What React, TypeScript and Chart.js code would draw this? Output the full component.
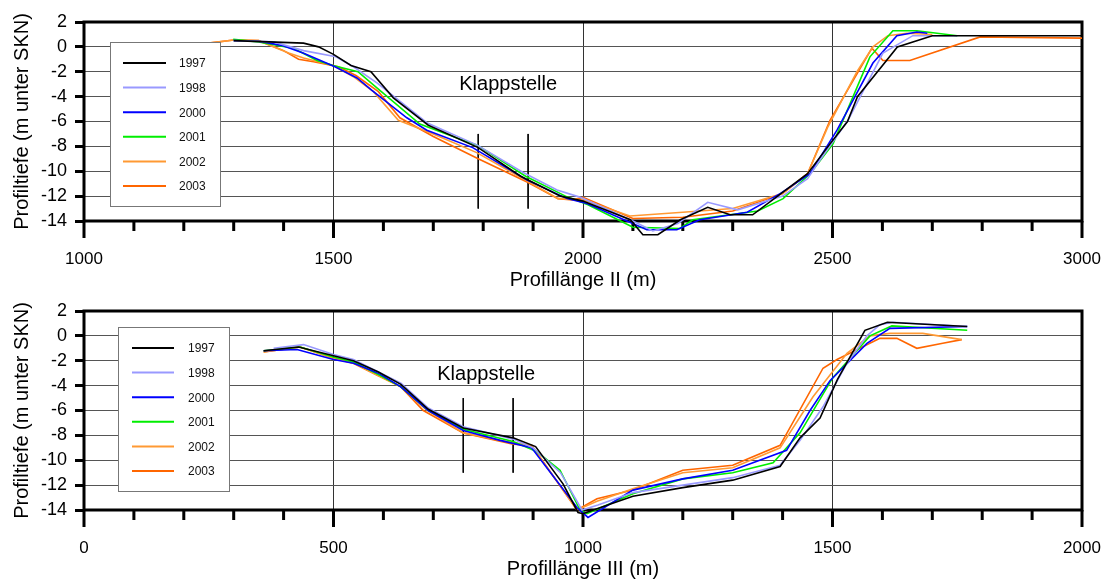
import React, { useEffect, useRef } from 'react';
import { Chart, registerables } from 'chart.js';
Chart.register(...registerables);

const FONT = '"Liberation Sans", Arial, sans-serif';

const seriesLabels = ['1997', '1998', '2000', '2001', '2002', '2003'];
const seriesColors = ['#000000', '#9999ff', '#0000ff', '#00ee00', '#ff9933', '#ff6600'];

// ---------- Profil II (top) ----------
const topX1997 = [1300, 1440, 1470, 1500, 1535, 1575, 1620, 1690, 1790, 1875, 1955, 2000, 2095, 2120, 2150, 2195, 2250, 2295, 2340, 2400, 2450, 2495, 2530, 2550, 2630, 2700, 3000];
const topY1997 = [0.5, 0.3, 0.0, -0.6, -1.5, -2.0, -4.1, -6.3, -8.1, -10.4, -12.0, -12.4, -13.9, -15.1, -15.1, -13.9, -12.9, -13.5, -13.5, -11.7, -10.2, -7.8, -6.0, -4.0, 0.0, 0.9, 0.9];
const topX1998 = [1300, 1380, 1440, 1505, 1540, 1587, 1687, 1788, 1880, 1948, 1995, 2100, 2140, 2190, 2250, 2310, 2400, 2450, 2475, 2531, 2601, 2661, 2750];
const topY1998 = [0.5, 0.4, -0.3, -0.8, -1.6, -2.9, -6.1, -7.9, -10.1, -11.5, -12.1, -14.0, -14.8, -14.2, -12.5, -13.1, -12.0, -10.6, -9.1, -5.9, -0.5, 0.9, 0.9];
const topX2000 = [1300, 1350, 1399, 1439, 1503, 1547, 1577, 1647, 1687, 1779, 1888, 1968, 2008, 2128, 2188, 2234, 2329, 2395, 2455, 2509, 2581, 2629, 2669, 2690];
const topY2000 = [0.5, 0.45, 0.1, -0.5, -1.6, -2.5, -3.5, -5.7, -6.7, -8.1, -10.7, -12.2, -12.6, -14.7, -14.7, -13.9, -13.3, -11.8, -10.2, -6.7, -1.3, 0.9, 1.2, 1.1];
const topX2001 = [1299, 1350, 1419, 1467, 1499, 1549, 1587, 1673, 1753, 1788, 1885, 1965, 2010, 2100, 2194, 2220, 2350, 2401, 2455, 2501, 2575, 2621, 2669, 2750];
const topY2001 = [0.6, 0.4, -0.1, -1.1, -1.5, -2.0, -3.3, -6.2, -7.4, -7.9, -10.4, -12.0, -12.7, -14.5, -14.6, -13.9, -13.2, -12.2, -10.2, -7.8, -0.8, 1.3, 1.3, 0.9];
const topX2002 = [1250, 1300, 1350, 1410, 1440, 1500, 1540, 1580, 1630, 1700, 1787, 1880, 1950, 2000, 2094, 2200, 2300, 2400, 2450, 2490, 2549, 2581, 2611, 2649, 2700];
const topY2002 = [0.3, 0.55, 0.5, -0.5, -0.9, -1.5, -2.4, -3.6, -5.9, -7.0, -8.5, -10.6, -12.2, -12.3, -13.6, -13.3, -13.0, -11.8, -10.2, -6.5, -2.0, 0.0, 0.9, 1.1, 1.0];
const topX2003 = [1250, 1300, 1350, 1400, 1430, 1460, 1510, 1545, 1590, 1633, 1700, 1790, 1890, 1950, 1980, 2000, 2100, 2200, 2300, 2400, 2450, 2495, 2579, 2601, 2655, 2796, 3000];
const topY2003 = [0.3, 0.55, 0.5, -0.3, -1.0, -1.2, -1.6, -2.3, -3.6, -5.7, -7.2, -9.0, -10.9, -12.2, -12.3, -12.1, -13.8, -13.7, -13.2, -11.8, -10.2, -5.9, -0.1, -1.1, -1.1, 0.8, 0.7];

// ---------- Profil III (bottom) ----------
const botX1997 = [360, 430, 500, 540, 590, 635, 690, 760, 860, 905, 960, 990, 1000, 1035, 1100, 1200, 1300, 1395, 1435, 1475, 1510, 1565, 1610, 1770];
const botY1997 = [-1.2, -0.9, -1.6, -2.0, -2.9, -3.9, -5.9, -7.4, -8.2, -8.9, -11.9, -14.2, -14.3, -13.8, -12.9, -12.2, -11.6, -10.5, -8.2, -6.6, -3.5, 0.45, 1.1, 0.75];
const botX1998 = [380, 440, 500, 540, 590, 635, 690, 760, 860, 900, 955, 998, 1030, 1100, 1200, 1300, 1395, 1435, 1481, 1529, 1569, 1595, 1621, 1770];
const botY1998 = [-1.0, -0.7, -1.5, -1.9, -2.9, -3.8, -5.8, -7.3, -8.3, -9.0, -11.0, -14.0, -13.6, -12.6, -12.0, -11.4, -10.4, -8.4, -5.7, -2.2, 0.0, 0.9, 1.1, 0.75];
const botX2000 = [360, 427, 500, 540, 590, 635, 690, 760, 834, 897, 988, 1010, 1100, 1200, 1300, 1408, 1455, 1495, 1569, 1615, 1770];
const botY2000 = [-1.2, -1.1, -1.9, -2.2, -3.0, -4.1, -6.0, -7.6, -8.4, -9.0, -13.8, -14.6, -12.4, -11.5, -10.8, -9.2, -6.0, -3.6, -0.6, 0.6, 0.75];
const botX2001 = [360, 433, 500, 540, 590, 635, 690, 760, 860, 907, 954, 994, 1008, 1100, 1200, 1300, 1381, 1435, 1500, 1575, 1619, 1770];
const botY2001 = [-1.2, -0.9, -1.7, -2.1, -3.1, -4.1, -6.0, -7.5, -8.5, -9.3, -10.8, -14.0, -14.3, -12.7, -11.5, -11.0, -10.2, -7.8, -3.4, 0.0, 0.8, 0.45];
const botX2002 = [360, 433, 500, 540, 590, 635, 685, 760, 860, 897, 988, 1028, 1100, 1200, 1300, 1395, 1461, 1529, 1575, 1615, 1681, 1759];
const botY2002 = [-1.3, -0.9, -1.8, -2.2, -3.2, -4.1, -5.9, -7.8, -8.6, -8.8, -14.0, -13.3, -12.3, -11.0, -10.6, -9.0, -4.9, -1.4, 0.0, 0.2, 0.2, -0.3];
const botX2003 = [360, 433, 500, 540, 590, 635, 680, 760, 860, 897, 988, 1028, 1100, 1200, 1300, 1395, 1481, 1509, 1595, 1629, 1669, 1721, 1759];
const botY2003 = [-1.3, -0.9, -1.8, -2.2, -3.2, -4.1, -6.0, -7.8, -8.7, -8.8, -14.0, -13.1, -12.4, -10.8, -10.4, -8.8, -2.6, -1.9, -0.2, -0.2, -1.0, -0.6, -0.3];

// Klappstelle markers (x positions of the dump-site boundaries and their vertical extent)
const topMarkerX = [1790, 1890];
const topMarkerY = [-7, -13];
const botMarkerX = [760, 860];
const botMarkerY = [-5, -11];

const yTickMin = -14;
const yTickMax = 2;
const yTickStep = 2;

const topXRange = [1000, 3000];
const botXRange = [0, 2000];

const topSeriesX = [topX1997, topX1998, topX2000, topX2001, topX2002, topX2003];
const topSeriesY = [topY1997, topY1998, topY2000, topY2001, topY2002, topY2003];
const botSeriesX = [botX1997, botX1998, botX2000, botX2001, botX2002, botX2003];
const botSeriesY = [botY1997, botY1998, botY2000, botY2001, botY2002, botY2003];

function zip(xs: number[], ys: number[]) {
  return xs.map((x, i) => ({ x, y: ys[i] }));
}

const framePlugin = {
  id: 'frameTicks',
  beforeDatasetsDraw(chart: any) {
    const { ctx, chartArea } = chart;
    const { left, right, top, bottom } = chartArea;
    const x = chart.scales.x;
    ctx.save();
    ctx.strokeStyle = '#000';
    ctx.lineWidth = 3;
    ctx.lineCap = 'butt';
    ctx.beginPath();
    ctx.rect(left, top, right - left, bottom - top);
    ctx.stroke();
    ctx.beginPath();
    for (let v = x.min; v <= x.max + 0.001; v += 100) {
      const px = x.getPixelForValue(v);
      const len = Math.round(v) % 500 === 0 ? 17 : 10;
      ctx.moveTo(px, bottom);
      ctx.lineTo(px, bottom + len);
    }
    ctx.stroke();
    ctx.restore();
  },
};

const overlayPlugin = {
  id: 'overlay',
  afterDatasetsDraw(chart: any, _args: any, opts: any) {
    const { ctx } = chart;
    const { x: xs, y: ys } = chart.scales;
    ctx.save();
    // Klappstelle label
    ctx.fillStyle = '#000';
    ctx.font = `20px ${FONT}`;
    ctx.textAlign = 'center';
    ctx.textBaseline = 'middle';
    ctx.fillText(opts.text, xs.getPixelForValue(opts.textX), ys.getPixelForValue(opts.textY));
    // Legend
    const b = opts.box;
    ctx.fillStyle = '#fff';
    ctx.fillRect(b.x, b.y, b.w, b.h);
    ctx.strokeStyle = '#777';
    ctx.lineWidth = 1;
    ctx.strokeRect(b.x + 0.5, b.y + 0.5, b.w, b.h);
    ctx.font = `12px ${FONT}`;
    ctx.textAlign = 'left';
    ctx.textBaseline = 'middle';
    seriesLabels.forEach((lab, i) => {
      const yy = b.y + b.firstRow + i * b.rowStep;
      ctx.strokeStyle = seriesColors[i];
      ctx.lineWidth = 2;
      ctx.beginPath();
      ctx.moveTo(b.x + b.lineStart, yy);
      ctx.lineTo(b.x + b.lineEnd, yy);
      ctx.stroke();
      ctx.fillStyle = '#111';
      ctx.fillText(lab, b.x + b.textStart, yy + 1);
    });
    ctx.restore();
  },
};

function makeConfig(
  sx: number[][],
  sy: number[][],
  range: number[],
  markerX: number[],
  markerY: number[],
  xTitle: string,
  topPad: number,
  axisH: number,
  overlay: any
): any {
  const datasets: any[] = seriesLabels.map((lab, i) => ({
    label: lab,
    data: zip(sx[i], sy[i]),
    borderColor: seriesColors[i],
    backgroundColor: seriesColors[i],
    borderWidth: 1.6,
    pointRadius: 0,
    tension: 0,
    clip: false,
  }));
  markerX.forEach((mx) => {
    datasets.push({
      label: '',
      data: [{ x: mx, y: markerY[0] }, { x: mx, y: markerY[1] }],
      borderColor: '#000',
      borderWidth: 1,
      pointRadius: 0,
      clip: false,
    });
  });
  return {
    type: 'line',
    data: { datasets },
    options: {
      responsive: false,
      animation: false,
      parsing: true,
      layout: { padding: { top: topPad, right: 26, left: 0, bottom: 0 } },
      plugins: {
        legend: { display: false },
        tooltip: { enabled: false },
        overlay,
      },
      scales: {
        x: {
          type: 'linear',
          min: range[0],
          max: range[1],
          afterFit: (s: any) => {
            s.height = axisH;
            s.paddingLeft = 0;
            s.paddingRight = 0;
          },
          ticks: {
            stepSize: 100,
            autoSkip: false,
            maxRotation: 0,
            padding: 28,
            color: '#000',
            font: { size: 17, family: FONT },
            callback: (v: any) => (Math.round(v) % 500 === 0 ? String(v) : ''),
          },
          grid: {
            drawTicks: false,
            lineWidth: 1,
            color: (c: any) => (c.tick && Math.round(c.tick.value) % 500 === 0 ? '#333' : 'rgba(0,0,0,0)'),
          },
          border: { display: false },
          title: {
            display: true,
            text: xTitle,
            color: '#000',
            font: { size: 20, family: FONT },
            padding: { top: 0, bottom: -2 },
          },
        },
        y: {
          type: 'linear',
          min: yTickMin,
          max: yTickMax,
          afterFit: (s: any) => {
            s.width = 84;
            s.paddingTop = 0;
            s.paddingBottom = 0;
          },
          ticks: {
            stepSize: yTickStep,
            color: '#000',
            padding: 8,
            font: { size: 18, family: FONT },
          },
          grid: {
            drawTicks: true,
            tickLength: 9,
            tickWidth: 3,
            tickColor: '#000',
            lineWidth: 1,
            color: '#555',
          },
          border: { display: false },
          title: {
            display: true,
            text: 'Profiltiefe (m unter SKN)',
            color: '#000',
            font: { size: 20, family: FONT },
            padding: { top: 10, bottom: 0 },
          },
        },
      },
    },
    plugins: [framePlugin, overlayPlugin],
  };
}

function ChartCanvas({ config, width, height }: { config: any; width: number; height: number }) {
  const ref = useRef<HTMLCanvasElement | null>(null);
  useEffect(() => {
    if (!ref.current) return;
    const ch = new Chart(ref.current, config);
    return () => ch.destroy();
  }, [config]);
  return <canvas ref={ref} width={width} height={height} style={{ display: 'block', width, height }} />;
}

const topConfig = makeConfig(
  topSeriesX,
  topSeriesY,
  topXRange,
  topMarkerX,
  topMarkerY,
  'Profillänge II (m)',
  22,
  69,
  {
    text: 'Klappstelle',
    textX: 1850,
    textY: -3.0,
    box: { x: 110, y: 42, w: 110, h: 164, firstRow: 21, rowStep: 24.6, lineStart: 13, lineEnd: 56, textStart: 69 },
  }
);

const botConfig = makeConfig(
  botSeriesX,
  botSeriesY,
  botXRange,
  botMarkerX,
  botMarkerY,
  'Profillänge III (m)',
  21,
  69,
  {
    text: 'Klappstelle',
    textX: 806,
    textY: -3.1,
    box: { x: 118, y: 37, w: 111, h: 164, firstRow: 21, rowStep: 24.6, lineStart: 14, lineEnd: 56, textStart: 70 },
  }
);

export default function App() {
  return (
    <div style={{ position: 'absolute', left: 0, top: 0, width: 1108, height: 579, background: '#fff' }}>
      <div style={{ position: 'absolute', left: 0, top: 0 }}>
        <ChartCanvas config={topConfig} width={1108} height={290} />
      </div>
      <div style={{ position: 'absolute', left: 0, top: 290 }}>
        <ChartCanvas config={botConfig} width={1108} height={289} />
      </div>
    </div>
  );
}
